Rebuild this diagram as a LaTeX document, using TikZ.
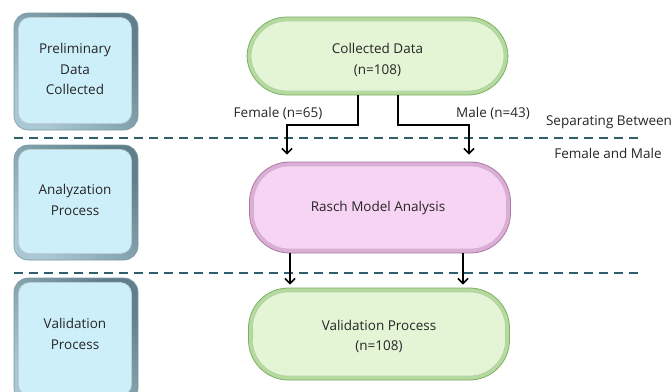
\documentclass[tikz,border=0pt]{standalone}
\usepackage{fontspec}
\setmainfont{Open Sans}
\usetikzlibrary{arrows.meta,calc}

\definecolor{txt}{HTML}{262626}
\definecolor{boxfill}{HTML}{CDEFFA}
\definecolor{boxrimlight}{HTML}{A9C8D3}
\definecolor{boxrimdark}{HTML}{5E7F8B}
\definecolor{greenfill}{HTML}{E4F5D6}
\definecolor{greenrim}{HTML}{B5DA9E}
\definecolor{greenedge}{HTML}{7FAE66}
\definecolor{pinkfill}{HTML}{F8D4F4}
\definecolor{pinkrim}{HTML}{DDADD7}
\definecolor{pinkedge}{HTML}{A77EA2}
\definecolor{sepline}{HTML}{2F5F6C}

\tikzset{
  every node/.style={font=\fontsize{13.5}{20.5}\selectfont, text=txt, align=center},
  stagerim/.style={rectangle, rounded corners=14pt, minimum width=124pt,
    left color=boxrimlight, right color=boxrimdark, shading angle=135,
    draw=boxrimdark!80, line width=0.6pt},
  stagebox/.style={rectangle, rounded corners=11pt, minimum width=113pt,
    fill=boxfill, draw=white!60!boxrimdark, line width=0.6pt},
  pillrim/.style={rectangle, rounded corners=40pt, minimum width=261pt,
    draw=#1edge, line width=0.8pt, fill=#1rim},
  pillbox/.style={rectangle, rounded corners=36pt, minimum width=253pt,
    draw=#1edge!60, line width=0.6pt, fill=#1fill},
  conn/.style={line width=1.6pt, black, -{Straight Barb[length=5pt,width=10pt,line width=1.6pt]}},
  sep/.style={line width=2.4pt, sepline, dash pattern=on 9pt off 6pt},
  lbl/.style={font=\fontsize{13.5}{18}\selectfont},
  txtonly/.style={inner sep=0pt},
}

\begin{document}
\begin{tikzpicture}[x=1pt,y=-1pt]
\useasboundingbox (0,0) rectangle (672,391);

% stage labels on the left
\node[stagerim, minimum height=117pt] (s1r) at (76,71.5) {};
\node[stagebox, minimum height=106pt] (s1) at (75,70.5) {};
\node[txtonly] (t1) at (s1) [yshift=1.5pt] {Preliminary\\Data\\Collected};
\node[stagerim, minimum height=115pt] (s2r) at (76,202.5) {};
\node[stagebox, minimum height=104pt] (s2) at (75,201.5) {};
\node[txtonly] (t2) at (s2) [yshift=1.5pt] {Analyzation\\Process};
\node[stagerim, minimum height=124pt] (s3r) at (76,340) {};
\node[stagebox, minimum height=113pt] (s3) at (75,339) {};
\node[txtonly] (t3) at (s3) [yshift=5pt] {Validation\\Process};

% separators between the stages
\coordinate (a1) at (14,138);
\coordinate (a2) at (641,138);
\coordinate (b1) at (14,273);
\coordinate (b2) at (641,273);
\draw[sep] (a1) -- (a2);
\draw[sep] (b1) -- (b2);

% process pills
\node[pillrim=green, minimum height=78pt] (cdr) at (377.5,56) {};
\node[pillbox=green, minimum height=70pt] (cd) at (377.5,56) {};
\node[txtonly] (cdt) at (377.5,60) {Collected Data\\(n=108)};
\node[pillrim=pink, minimum height=91pt] (rar) at (380,207.5) {};
\node[pillbox=pink, minimum height=83pt] (ra) at (380,207.5) {};
\node[txtonly] (rat) at (378,207.5) {Rasch Model Analysis};
\node[pillrim=green, minimum height=92pt] (var) at (379,334) {};
\node[pillbox=green, minimum height=84pt] (va) at (379,334) {};
\node[txtonly] (vat) at (379,336.5) {Validation Process\\(n=108)};

% split into female and male groups
\coordinate (fk) at (287,125);
\coordinate (mk) at (469,125);
\draw[conn, shorten >=7pt] ([xshift=-19.5pt]cdr.south) |- (fk) -- (fk |- rar.north);
\draw[conn, shorten >=7pt] ([xshift=20.5pt]cdr.south) |- (mk) -- (mk |- rar.north);

\node[lbl] (fl) at (278,113) {Female (n=65)};
\node[lbl] (ml) at (493,113) {Male (n=43)};
\node[lbl] (sl) at (609,122) {Separating Between};
\node[lbl] (sl2) at (608,153) {Female and Male};

% groups passed on to validation
\draw[conn, shorten >=3pt] ([xshift=-90pt]rar.south) -- ([xshift=-90pt]rar.south |- var.north);
\draw[conn, shorten >=3pt] ([xshift=83pt]rar.south) -- ([xshift=83pt]rar.south |- var.north);
\end{tikzpicture}
\end{document}
